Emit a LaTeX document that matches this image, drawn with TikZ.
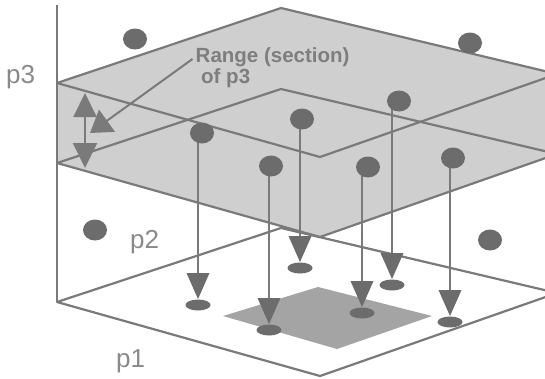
\documentclass[tikz,border=0pt]{standalone}
\usepackage{fontspec}
\setmainfont{Liberation Sans}
\usetikzlibrary{arrows.meta,shapes.geometric,calc}
\definecolor{edgec}{HTML}{7A7A7A}
\definecolor{slabc}{HTML}{CFCFCF}
\definecolor{dotc}{HTML}{6C6C6C}
\definecolor{patchc}{HTML}{A4A4A4}
\definecolor{txtc}{HTML}{8A8A8A}
\definecolor{rtxtc}{HTML}{7E7E7E}
\tikzset{
  planeedge/.style={draw=edgec, line width=2.2pt, line join=round},
  dropline/.style={draw=edgec, line width=2pt},
  blob/.style={ellipse, fill=dotc, draw=none, minimum width=24pt, minimum height=21pt, inner sep=0pt},
  footc/.style={ellipse, fill=dotc, draw=none, minimum width=25pt, minimum height=11pt, inner sep=0pt},
  conec/.style={fill=dotc},
  axislabel/.style={text=txtc, inner sep=0pt, font=\fontsize{26}{30}\selectfont},
  rangelabel/.style={text=rtxtc, inner sep=0pt, font=\bfseries\fontsize{20.5}{22}\selectfont},
}
\begin{document}
\begin{tikzpicture}[x=1pt,y=-1pt]
\useasboundingbox (0,0) rectangle (545,378);
\fill[white] (0,0) rectangle (545,378);
\clip (0,0) rectangle (545,378);
% plane corners
\coordinate (L0) at (57,302); \coordinate (B0) at (281,228);
\coordinate (F0) at (320,376); \coordinate (R0) at (557,293);
\coordinate (Lu) at (57,83);  \coordinate (Bu) at (281,8);
\coordinate (Fu) at (320,157); \coordinate (Ru) at (557,74);
\coordinate (Ll) at (57,163); \coordinate (Bl) at (281,89);
\coordinate (Fl) at (320,237); \coordinate (Rl) at (557,154);
\coordinate (axtop) at (57,5);
% shaded slab
\fill[slabc] (Lu) -- (Bu) -- (Ru) -- (Rl) -- (Fl) -- (Ll) -- cycle;
% patch on bottom plane
\fill[patchc] (223,316) -- (318,287) -- (432,316) -- (337,349) -- cycle;
% axis and plane edges
\draw[planeedge] (axtop) -- (L0);
\draw[planeedge] (L0) -- (B0) -- (R0) -- (F0) -- cycle;
\draw[planeedge] (Ll) -- (Bl) -- (Rl) -- (Fl) -- cycle;
\draw[planeedge] (Lu) -- (Bu) -- (Ru) -- (Fu) -- cycle;
% free dots
\node[blob] (f1) at (135,39) {};
\node[blob] (f2) at (470,43) {};
\node[blob] (f3) at (95,230) {};
\node[blob] (f4) at (490,240) {};
% pins: n / line x / foot y / dot x / dot y
\foreach \n/\cx/\ey/\dx/\dy in {1/198/305/202/133, 2/300/268/302/119, 3/392/285/399/101, 4/269/330/271/166, 5/362/313/368/167, 6/450/322/453/158}{
  \node[footc] (e\n) at (\cx,\ey) {};
  \coordinate (c\n) at (\cx,\ey-32);
  \coordinate (t\n) at (\cx,\ey-6);
  \draw[dropline] (c\n |- 0,\dy) -- (c\n);
  \fill[conec] ($(c\n)+(-11.5,0)$) -- ($(c\n)+(11.5,0)$) -- (t\n) -- cycle;
  \node[blob] (d\n) at (\dx,\dy) {};
}
% range double arrow
\coordinate (rtop) at (85,93);
\coordinate (rbot) at (85,168);
\draw[edgec, fill=edgec, line width=2pt, {Triangle[length=24pt,width=23pt]}-{Triangle[length=25pt,width=24pt]}] (rtop) -- (rbot);
% labels
\node[axislabel, anchor=base west] (p3) at (6,83) {p3};
\node[axislabel, anchor=base west] (p2) at (130,248) {p2};
\node[axislabel, anchor=base west] (p1) at (116,367) {p1};
\node[rangelabel, anchor=base west] (rangeA) at (195.5,62) {Range (section)};
\node[rangelabel, anchor=base west] (rangeB) at (201,83) {of p3};
% pointer arrow
\coordinate (rtip) at (90,133);
\draw[edgec, fill=edgec, line width=2pt, -{Triangle[length=21pt,width=27pt]}] ([shift={(-3pt,3pt)}]rangeA.base west) -- (rtip);
\end{tikzpicture}
\end{document}
